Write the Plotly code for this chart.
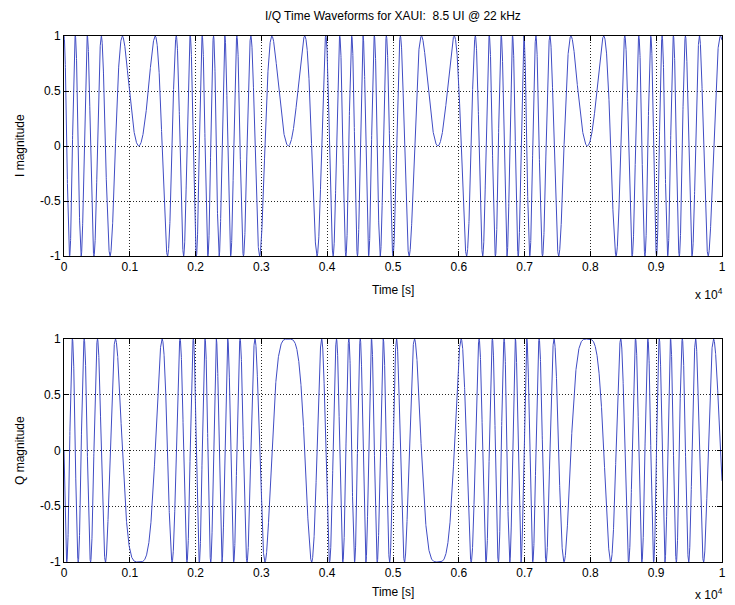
import numpy as np
import plotly.graph_objects as go

# ---- data / parameters ----
n_samples = 10000                 # x axis spans 0 .. 1 x 10^4
jitter_ui = 8.5                   # peak-to-peak jitter in UI (title)
jitter_period = 4545              # samples per 22 kHz jitter cycle (turning points ~0.11, 0.34, 0.57, 0.80 x10^4)
x_tick_vals = [0, 1000, 2000, 3000, 4000, 5000, 6000, 7000, 8000, 9000, 10000]
x_tick_text = ["0", "0.1", "0.2", "0.3", "0.4", "0.5", "0.6", "0.7", "0.8", "0.9", "1"]
y_tick_vals = [-1, -0.5, 0, 0.5, 1]
y_tick_text = ["-1", "-0.5", "0", "0.5", "1"]

t = np.arange(n_samples + 1)
phase = -(jitter_ui * np.pi) * np.sin(2 * np.pi * t / jitter_period)
i_wave = np.cos(phase)
q_wave = np.sin(phase)

line_color = "rgb(64,76,196)"
font = dict(family="Liberation Sans, Arial, sans-serif", size=12, color="black")

# the page body has an 8px margin, so the figure is sized/positioned to compensate
OFF = 8
W, H = 735 - 2 * OFF, 605 - OFF

def fx(xp):
    return (xp - OFF) / W

def fy(yp):
    return 1 - (yp - OFF) / H

fig = go.Figure()
fig.add_trace(go.Scatter(x=t, y=i_wave, mode="lines", line=dict(color=line_color, width=1),
                         xaxis="x", yaxis="y", showlegend=False, hoverinfo="skip"))
fig.add_trace(go.Scatter(x=t, y=q_wave, mode="lines", line=dict(color=line_color, width=1),
                         xaxis="x2", yaxis="y2", showlegend=False, hoverinfo="skip"))

xdom = [fx(64), fx(722)]
ax_common = dict(showline=True, linecolor="black", linewidth=1, mirror="allticks",
                 ticks="inside", ticklen=5, tickcolor="black", automargin=False,
                 showgrid=True, gridcolor="rgba(0,0,0,0.85)", gridwidth=1, griddash="1px,2px",
                 zeroline=False, tickfont=font)

fig.update_layout(
    width=W, height=H,
    margin=dict(l=0, r=0, t=0, b=0, autoexpand=False),
    paper_bgcolor="white", plot_bgcolor="white",
    font=font,
    xaxis=dict(domain=xdom, anchor="y", range=[0, n_samples], tickmode="array",
               tickvals=x_tick_vals, ticktext=x_tick_text, **ax_common),
    yaxis=dict(domain=[fy(256), fy(36)], anchor="x", range=[-1, 1],
               tickmode="array", tickvals=y_tick_vals, ticktext=y_tick_text, **ax_common),
    xaxis2=dict(domain=xdom, anchor="y2", range=[0, n_samples], tickmode="array",
                tickvals=x_tick_vals, ticktext=x_tick_text, **ax_common),
    yaxis2=dict(domain=[fy(562), fy(339)], anchor="x2", range=[-1, 1],
                tickmode="array", tickvals=y_tick_vals, ticktext=y_tick_text, **ax_common),
)

anns = [
    ("I/Q Time Waveforms for XAUI:  8.5 UI @ 22 kHz", 393, 16, 0, "center"),
    ("I magnitude", 20, 146, -90, "center"),
    ("Q magnitude", 20, 451, -90, "center"),
    ("Time [s]", 393, 290, 0, "center"),
    ("Time [s]", 393, 592, 0, "center"),
    ("x 10<sup>4</sup>", 725, 294, 0, "right"),
    ("x 10<sup>4</sup>", 725, 594, 0, "right"),
]
for text, xp, yp, ang, al in anns:
    fig.add_annotation(text=text, x=fx(xp), y=fy(yp), xref="paper", yref="paper",
                       showarrow=False, textangle=ang, xanchor=al, yanchor="middle",
                       font=font)

fig.write_html("out.html")
